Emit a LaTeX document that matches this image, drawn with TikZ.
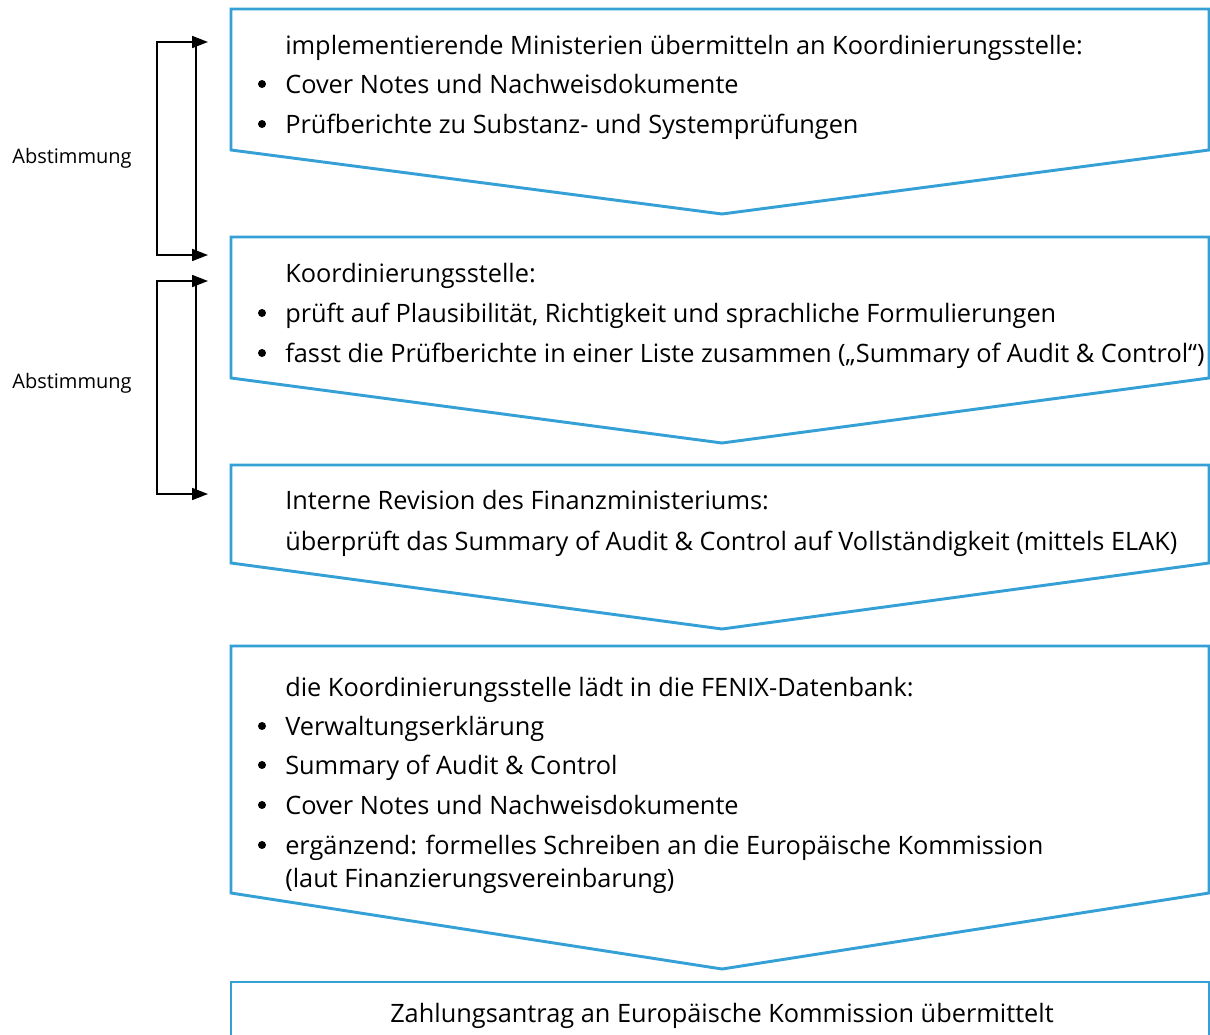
\documentclass[tikz,border=0pt]{standalone}
\usepackage{fontspec}
\setmainfont{Open Sans}
\usepackage{tikz}
\usetikzlibrary{arrows.meta}
\definecolor{pfeilblau}{RGB}{52,160,214}
\tikzstyle{pfeilbox} = [draw=pfeilblau, line width=2.2pt, line join=miter]
\tikzstyle{titel} = [anchor=base west, inner sep=0pt, font=\fontsize{19}{24}\selectfont]
\tikzstyle{punkt} = [anchor=base west, inner sep=0pt, align=left, font=\fontsize{19}{24.75}\selectfont]
\tikzstyle{aufz} = [circle, fill=black, inner sep=0pt, minimum size=6pt]
\tikzstyle{seitlich} = [inner sep=0pt, font=\fontsize{15}{18}\selectfont]
\tikzstyle{abstimmung} = [draw=black, line width=1.3pt, {Triangle[length=12pt,width=9pt]}-{Triangle[length=12pt,width=9pt]}]

\begin{document}
\begin{tikzpicture}[x=0.75pt,y=-0.75pt]
	\useasboundingbox (0,0) rectangle (1210,1035);
	% Pfeilkaesten
	\foreach \oben/\seite/\spitze in {9/150/214, 237/378/443, 465/563/629, 646/893/969}{
		\draw[pfeilbox] (231,\oben) -- (1209,\oben) -- (1209,\seite) -- (722,\spitze) -- (231,\seite) -- cycle;
	}
	\draw[pfeilbox] (231,1040) -- (231,982) -- (1209,982) -- (1209,1040);
	% Aufzaehlungspunkte
	\foreach \y in {84,124,313,353,726,765,805,845}
		\node[aufz] (b\y) at (262,\y) {};
	% Kasten 1
	\node[titel] (t1) at (285,54) {implementierende Ministerien übermitteln an Koordinierungsstelle:};
	\node[punkt] (p11) at (285,93) {Cover Notes und Nachweisdokumente};
	\node[punkt] (p12) at (285,133) {Prüfberichte zu Substanz- und Systemprüfungen};
	% Kasten 2
	\node[titel] (t2) at (285,282) {Koordinierungsstelle:};
	\node[punkt] (p21) at (285,322) {prüft auf Plausibilität, Richtigkeit und sprachliche Formulierungen};
	\node[punkt] (p22) at (285,362) {fasst die Prüfberichte in einer Liste zusammen („Summary of Audit \& Control“)};
	% Kasten 3
	\node[titel] (t3) at (285,509) {Interne Revision des Finanzministeriums:};
	\node[punkt] (p31) at (285,550) {überprüft das Summary of Audit \& Control auf Vollständigkeit (mittels ELAK)};
	% Kasten 4
	\node[titel] (t4) at (285,696) {die Koordinierungsstelle lädt in die FENIX-Datenbank:};
	\node[punkt] (p41) at (285,735) {Verwaltungserklärung};
	\node[punkt] (p42) at (285,774) {Summary of Audit \& Control};
	\node[punkt] (p43) at (285,814) {Cover Notes und Nachweisdokumente};
	\node[punkt] (p44) at (285,887) {ergänzend: formelles Schreiben an die Europäische Kommission\\(laut Finanzierungsvereinbarung)};
	% Kasten 5
	\node[titel, anchor=base] (t5) at (722,1022) {Zahlungsantrag an Europäische Kommission übermittelt};
	% Abstimmung
	\coordinate (a1o) at (208,42);
	\coordinate (a1u) at (208,255);
	\coordinate (a2o) at (208,281);
	\coordinate (a2u) at (208,494);
	\draw[abstimmung] (a1o) -- (157,42) -- (157,255) -- (a1u);
	\draw[line width=1.3pt] (196,42) -- (196,255);
	\draw[abstimmung] (a2o) -- (157,281) -- (157,494) -- (a2u);
	\draw[line width=1.3pt] (196,281) -- (196,494);
	\node[seitlich] (s1) at (72,158) {Abstimmung};
	\node[seitlich] (s2) at (72,383) {Abstimmung};
\end{tikzpicture}
\end{document}
